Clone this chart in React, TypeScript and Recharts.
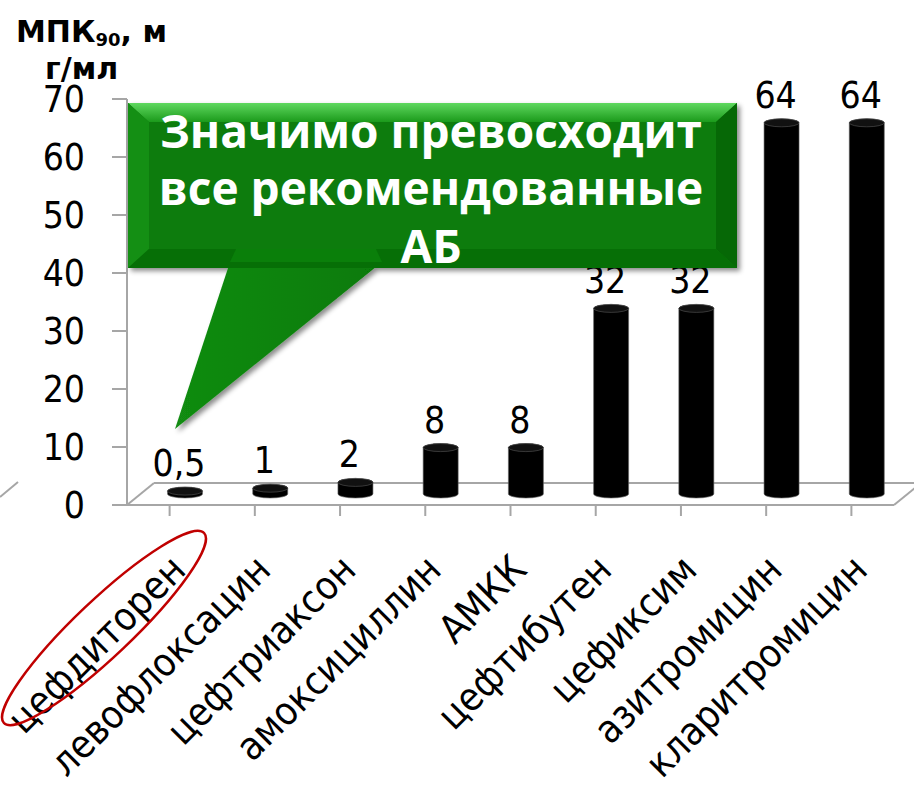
import { BarChart, Bar, XAxis, YAxis, LabelList } from 'recharts'

const categories = [
	'цефдиторен',
	'левофлоксацин',
	'цефтриаксон',
	'амоксициллин',
	'АМКК',
	'цефтибутен',
	'цефиксим',
	'азитромицин',
	'кларитромицин'
]
const mic90 = [0.5, 1, 2, 8, 8, 32, 32, 64, 64]
const valueLabels = ['0,5', '1', '2', '8', '8', '32', '32', '64', '64']
const yTicks = [0, 10, 20, 30, 40, 50, 60, 70]

const chartData = categories.map((name, i) => ({
	name,
	value: mic90[i],
	label: valueLabels[i]
}))

// pseudo-3D: bars sit half way into the floor
const DEPTH_X = 15.5
const DEPTH_Y = -11
const FONT = '"DejaVu Sans Condensed", "DejaVu Sans", sans-serif'
const AXIS = '#a6a6a6'

function Cylinder(props: any) {
	const { x, y, width, height } = props
	const r = width / 2
	const cx = x + r + DEPTH_X
	const ry = 4
	const top = y + DEPTH_Y
	const bottom = y + height + DEPTH_Y
	const l = cx - r
	const rr = cx + r
	return (
		<g>
			<path
				d={`M${l},${top} L${l},${bottom} A${r},${ry} 0 0 0 ${rr},${bottom} L${rr},${top} A${r},${ry} 0 0 0 ${l},${top} Z`}
				fill='#000'
				stroke='#666'
				strokeWidth={0.6}
			/>
			<ellipse cx={cx} cy={top} rx={r} ry={ry} fill='#111' stroke='#555' strokeWidth={0.6} />
		</g>
	)
}

function ValueLabel(props: any) {
	const { x, y, width, index } = props
	return (
		<text
			x={x + width / 2 + DEPTH_X - 6}
			y={y + DEPTH_Y - 15}
			textAnchor='middle'
			fontSize={37}
			fontFamily={FONT}
			fill='#000'
		>
			{valueLabels[index]}
		</text>
	)
}

function CategoryTick(props: any) {
	const { x, y, payload } = props
	const ax = x + 18
	const ay = y + 54
	return (
		<text
			x={ax}
			y={ay}
			transform={`rotate(-45 ${ax} ${ay})`}
			textAnchor='end'
			fontSize={39}
			fontFamily={FONT}
			fill='#000'
		>
			{payload.value}
		</text>
	)
}

function Floor() {
	return (
		<svg width={914} height={789} style={{ position: 'absolute', left: 0, top: 0 }}>
			<g stroke={AXIS} strokeWidth={2} fill='none'>
				<line x1={154} y1={483} x2={914} y2={483} />
				<line x1={127} y1={505} x2={154} y2={483} />
				<line x1={894} y1={505} x2={921} y2={483} />
				<line x1={0} y1={497} x2={18} y2={482} />
			</g>
		</svg>
	)
}

function Overlay() {
	return (
		<svg width={914} height={789} style={{ position: 'absolute', left: 0, top: 0 }}>
			<defs>
				<filter id='shadow' x='-10%' y='-10%' width='120%' height='130%'>
					<feDropShadow dx={3} dy={3} stdDeviation={2.5} floodColor='#000' floodOpacity={0.45} />
				</filter>
				<linearGradient id='topBevel' x1='0' y1='0' x2='0' y2='1'>
					<stop offset='0' stopColor='#5fd85f' />
					<stop offset='1' stopColor='#1b9a1b' />
				</linearGradient>
				<linearGradient id='pointerFill' x1='0' y1='0' x2='1' y2='0'>
					<stop offset='0' stopColor='#128c12' />
					<stop offset='1' stopColor='#067a06' />
				</linearGradient>
			</defs>

			<g filter='url(#shadow)'>
				<polygon points='230,262 382,262 175,429' fill='url(#pointerFill)' />
				<rect x={128} y={103} width={609} height={165} fill='#077b07' />
			</g>
			<polygon points='128,103 737,103 716,122 149,122' fill='url(#topBevel)' />
			<polygon points='128,103 149,122 149,249 128,268' fill='#148f14' />
			<polygon points='737,103 737,268 716,249 716,122' fill='#066806' />
			<polygon points='128,268 149,249 716,249 737,268' fill='#066f06' />
			<polygon points='236,249 376,249 382,262 230,262' fill='#0a7f0a' />

			<g fill='#fff' fontFamily='"Open Sans", sans-serif' fontWeight={700} fontSize={46} textAnchor='middle'>
				<text x={431} y={148}>Значимо превосходит</text>
				<text x={431} y={205}>все рекомендованные</text>
				<text x={431} y={263}>АБ</text>
			</g>

			<ellipse
				cx={104}
				cy={628}
				rx={138}
				ry={28}
				transform='rotate(-43.5 104 628)'
				fill='none'
				stroke='#c00000'
				strokeWidth={2.5}
			/>

			<g fontFamily='"DejaVu Sans", sans-serif' fontWeight={700} fill='#000'>
				<text x={16} y={42} fontSize={30}>
					МПК
					<tspan fontSize={18} dy={4}>90</tspan>
					<tspan dy={-4}>, м</tspan>
				</text>
				<text x={45} y={79} fontSize={30}>г/мл</text>
			</g>
		</svg>
	)
}

export default function App() {
	return (
		<div style={{ position: 'absolute', left: 0, top: 0, width: 914, height: 789, overflow: 'hidden', background: '#fff' }}>
			<Floor />
			<div style={{ position: 'absolute', left: 0, top: 0 }}>
				<BarChart
					width={914}
					height={789}
					data={chartData}
					margin={{ top: 99, right: 20, bottom: 0, left: 0 }}
					barSize={35}
				>
					<XAxis
						dataKey='name'
						height={284}
						interval={0}
						tickSize={11}
						axisLine={{ stroke: AXIS, strokeWidth: 2 }}
						tickLine={{ stroke: AXIS, strokeWidth: 2 }}
						tick={<CategoryTick />}
					/>
					<YAxis
						width={127}
						domain={[0, 70]}
						ticks={yTicks}
						interval={0}
						tickSize={15}
						tickMargin={27}
						axisLine={{ stroke: AXIS, strokeWidth: 2 }}
						tickLine={{ stroke: AXIS, strokeWidth: 2 }}
						tick={{ fill: '#000', fontSize: 37, fontFamily: FONT }}
					/>
					<Bar dataKey='value' shape={<Cylinder />} isAnimationActive={false}>
						<LabelList dataKey='label' content={<ValueLabel />} />
					</Bar>
				</BarChart>
			</div>
			<Overlay />
		</div>
	)
}
